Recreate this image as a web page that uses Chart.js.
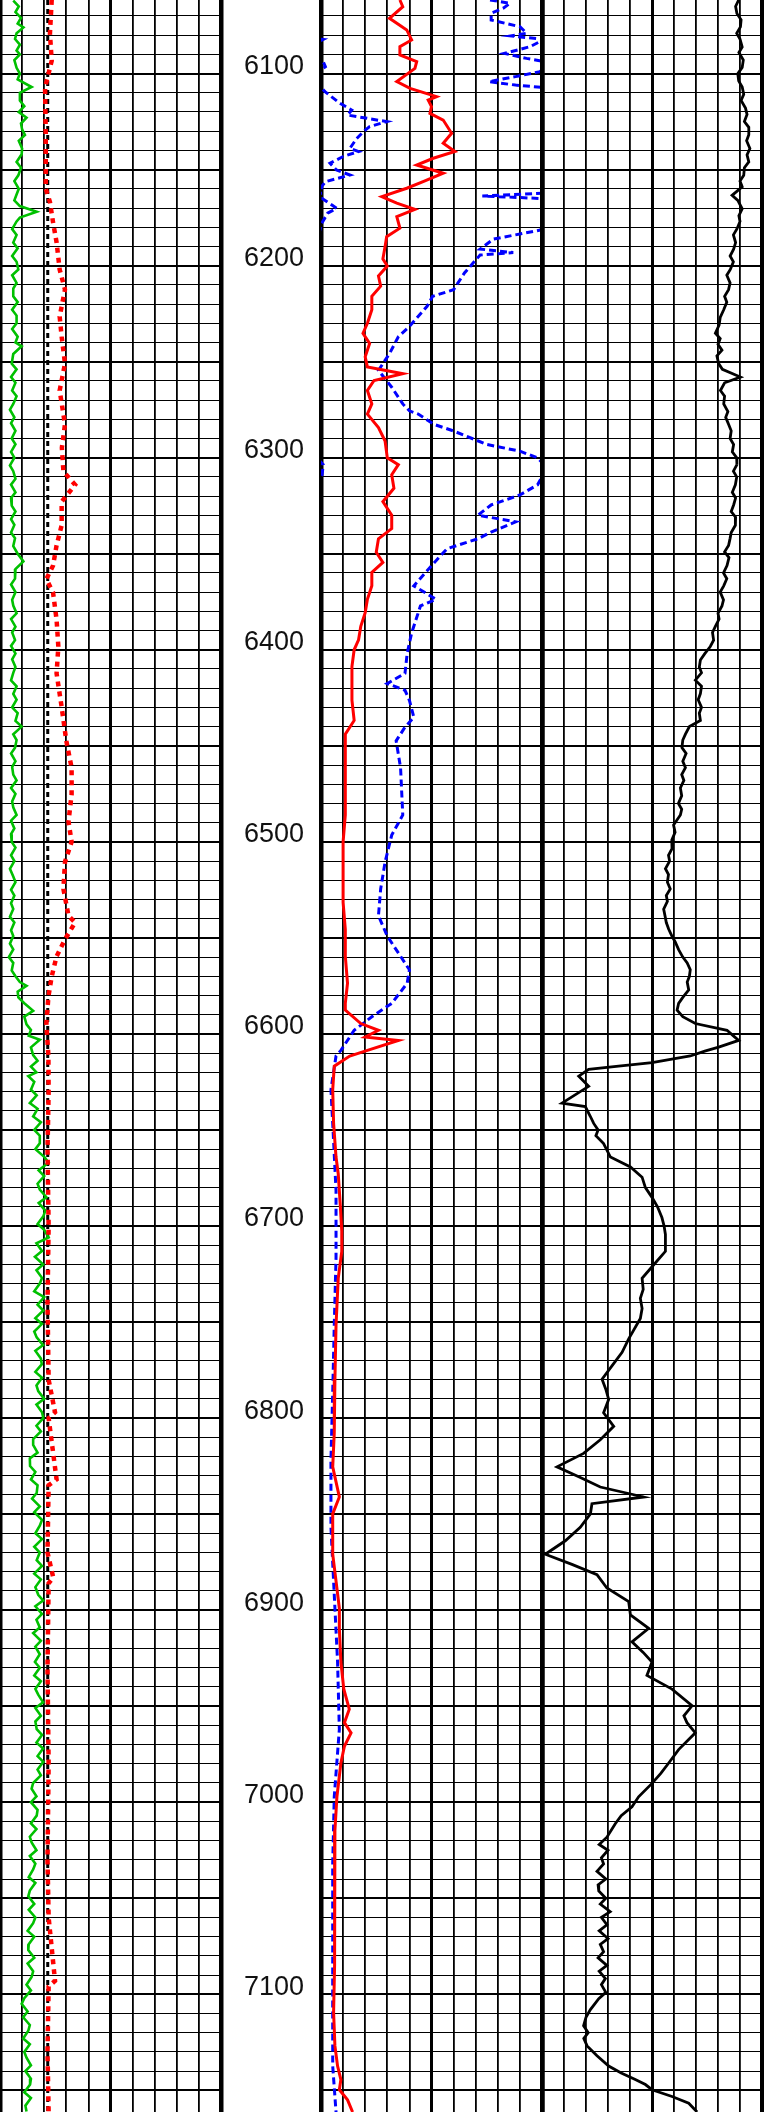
<!DOCTYPE html>
<html>
<head>
<meta charset="utf-8">
<script src="https://cdn.jsdelivr.net/npm/chart.js@4.4.1/dist/chart.umd.min.js"></script>
<style>
  html, body { margin: 0; padding: 0; background: #fff; }
  #log { position: relative; width: 764px; height: 2112px; overflow: hidden; }
  #log canvas { position: absolute; top: 0; }
</style>
</head>
<body>
<div id="log">
  <canvas id="track1" width="232" height="2112" style="left:-5px"></canvas>
  <canvas id="depth" width="100" height="2112" style="left:221px"></canvas>
  <canvas id="track2" width="232" height="2112" style="left:316px"></canvas>
  <canvas id="track3" width="232" height="2112" style="left:537px"></canvas>
</div>
<script>
// depth window shown (ft) and the labelled depths
const depthMin = 6061.7;
const depthMax = 7161.3;
const depthTicks = [6100, 6200, 6300, 6400, 6500, 6600, 6700, 6800, 6900, 7000, 7100];

// Track 1: green curve
const greenDepth = [6062, 6065, 6068, 6071, 6074, 6076, 6079, 6082, 6085, 6088, 6090, 6093, 6097, 6100, 6103, 6107,
  6110, 6114, 6117, 6120, 6123, 6126, 6129, 6132, 6135, 6139, 6142, 6146, 6149, 6153, 6156, 6160, 6163, 6166, 6169,
  6172, 6175, 6177, 6181, 6184, 6188, 6191, 6195, 6198, 6202, 6205, 6209, 6212, 6216, 6219, 6223, 6226, 6230, 6233,
  6237, 6240, 6242, 6246, 6251, 6254, 6258, 6261, 6265, 6268, 6272, 6275, 6279, 6282, 6286, 6290, 6293, 6297, 6300,
  6304, 6307, 6311, 6314, 6318, 6321, 6325, 6328, 6332, 6335, 6339, 6342, 6346, 6350, 6354, 6358, 6363, 6366, 6370,
  6374, 6377, 6381, 6384, 6388, 6391, 6395, 6398, 6402, 6405, 6409, 6412, 6416, 6419, 6423, 6426, 6430, 6433, 6437,
  6440, 6444, 6447, 6451, 6454, 6458, 6461, 6465, 6468, 6472, 6475, 6479, 6482, 6486, 6489, 6493, 6496, 6500, 6503,
  6507, 6510, 6514, 6518, 6521, 6525, 6528, 6532, 6535, 6539, 6542, 6546, 6549, 6553, 6556, 6560, 6563, 6567, 6570,
  6573, 6575, 6578, 6581, 6584, 6588, 6591, 6595, 6598, 6601, 6603, 6607, 6611,
  6614, 6617, 6620, 6622, 6625, 6629, 6632, 6636, 6639, 6643, 6646, 6650, 6653, 6657, 6660, 6664, 6667, 6671, 6674,
  6678, 6681, 6685, 6688, 6692, 6695, 6699, 6702, 6706, 6709, 6713, 6716, 6720, 6723, 6727, 6730, 6734, 6737, 6741,
  6744, 6748, 6751, 6755, 6758, 6762, 6765, 6769, 6772, 6776, 6779, 6783, 6786, 6790, 6793, 6797, 6800, 6804, 6807,
  6811, 6814, 6818, 6821, 6825, 6828, 6832, 6835, 6839, 6842, 6846, 6849, 6853, 6856, 6860, 6863, 6867, 6870, 6874,
  6877, 6881, 6884, 6888, 6892, 6895, 6898, 6902, 6905, 6909, 6912, 6916, 6919, 6923, 6927, 6930, 6934, 6937, 6941,
  6944, 6948, 6951, 6955, 6958, 6962, 6965, 6969, 6972, 6976, 6979, 6983, 6986, 6990, 6993, 6997, 7000, 7004, 7007,
  7011, 7014, 7018, 7021, 7025, 7028, 7032, 7035, 7039, 7042, 7046, 7049, 7053, 7056, 7060, 7063, 7067, 7070, 7074,
  7077, 7081, 7084, 7088, 7091, 7095, 7098, 7102, 7105, 7109, 7112, 7116, 7119, 7123, 7126, 7130, 7133, 7137, 7140,
  7144, 7147, 7151, 7154, 7158, 7161];
const greenVal = [6, 8.5, 7, 9.5, 8, 10.6, 7.5, 6.8, 9, 7.5, 9, 6.5, 7.5, 9, 8, 14.3,
  9, 9, 11, 8.5, 12, 9.5, 10, 11.3, 8.5, 10, 9.8, 7.5, 9.5, 8.3, 6.5, 8.5, 7.5, 6.5, 9,
  16.6, 9, 7.5, 5.5, 7.5, 6, 8, 5.5, 7.5, 8.3, 5.5, 7.5, 6, 6, 8, 5.5, 7.5, 7.5, 5.5,
  8, 7, 9.8, 6, 5.3, 7.5, 5, 7, 5.5, 7.5, 6, 4.5, 6.5, 5, 7, 5.3, 7, 5, 6.5,
  4.5, 6, 7, 5, 7, 5, 5.3, 7, 5, 6.5, 5, 6.8, 6, 8, 10.6, 7, 6.8, 5, 7,
  5.5, 6, 7.5, 5, 7, 5.5, 6.8, 5, 7, 5.5, 7, 6, 5, 7.5, 6, 7.5, 5.5, 8, 7,
  9.8, 6, 7.5, 6.8, 5, 7, 5.5, 6, 7.5, 5, 7, 5.5, 6, 7.5, 5, 6.5, 5, 5.3, 7,
  5, 6.5, 4.5, 6, 7, 5, 6.5, 5, 6, 4.5, 6.5, 5, 6, 4.5, 6, 4, 6, 5.3, 7,
  9, 12, 8, 8.3, 11, 15, 11, 12, 14, 13, 18, 14, 15,
  17, 14, 16.5, 12.8, 15.5, 14, 16.6, 13.5, 17, 15, 18.5, 15.5, 18, 18, 16, 20, 22, 17.5, 20,
  17, 18, 21, 17.5, 20.5, 19.6, 17, 20, 22, 16.5, 19, 15.8, 19.5, 16.5, 19, 18, 15.5, 20, 17,
  19.6, 16, 19, 15.5, 16.6, 19.5, 16, 18.5, 18.9, 16, 19, 16.5, 17.3, 20, 16.5, 19, 19.6, 16.5, 18.5,
  15, 15, 17, 13.5, 13.6, 16, 14, 17, 16.6, 14.5, 18, 15.5, 19, 18, 16, 19, 15.5, 18, 16.6,
  19, 15.5, 18.5, 16, 17.3, 19.5, 16, 19, 16.5, 18, 15, 18.5, 16, 18, 15.8, 18, 15.5, 18.5, 16,
  17.3, 19.5, 16, 18.5, 16, 16.6, 19, 16.5, 19.5, 17, 19.6, 17, 18.5, 15, 14.3, 16.5, 14, 17, 16.6,
  14, 16.5, 13.5, 14.3, 16.5, 13.5, 16, 15, 13, 16, 13.5, 12.8, 15.5, 13, 16, 15, 12.5, 15.5, 13,
  12.8, 15.5, 12.5, 15, 14.3, 12, 14, 11, 9.8, 12.5, 10.5, 13.5, 12.8, 10.5, 13.5, 11, 12, 14, 11.5,
  14, 13.6, 11, 14, 11.5, 12];

// Track 1: red dotted curve and black dashed cutoff
const red1Depth = [6061.7, 6079.2, 6093.3, 6100.3, 6107.3, 6131.8, 6159.9, 6166.9, 6177.4, 6187.9, 6202, 6212.5,
  6226.5, 6237, 6251, 6265, 6282.6, 6294.8, 6307.1, 6314.1, 6322.9, 6335.2, 6345.7, 6356.2, 6363.2, 6370.2,
  6384.3, 6398.3, 6412.3, 6429.8, 6447.4, 6461.4, 6475.4, 6489.4, 6500, 6510.5, 6524.5, 6538.5, 6542, 6550.8,
  6559.6, 6570.1, 6580.6, 6594.6, 6611.4, 6630, 6660, 6700, 6740, 6780, 6797, 6800, 6832, 6835, 6870, 6883,
  6886, 6930, 6980, 7030, 7060, 7093, 7096, 7130, 7161.3];
const red1Val = [23.4, 22.6, 23.4, 21.9, 20.4, 20.7, 20.7, 22.6, 24, 25.6, 27, 29.4,
  27, 27.9, 29.4, 27, 29.4, 28, 28.7, 34, 27.9, 27.9, 25.6, 24, 21, 24,
  25.6, 26.4, 25.6, 27.9, 30, 32.4, 32.4, 31, 32.4, 29.4, 28.7, 31, 34, 29.4,
  25.6, 23.4, 21.9, 21, 21.9, 22, 21.5, 22, 21.5, 22, 24.9, 22, 25.6, 22, 21.5, 24.1,
  22, 21.5, 22, 21.5, 22, 24.9, 22, 21.5, 22];
const cutoff = 21.6;

// Track 2: red solid curve
const red2Depth = [6061.7, 6065.2, 6071.2, 6077.3, 6082.5, 6086, 6090.3, 6093.8, 6097.3, 6104.2, 6107.7, 6112,
  6113.8, 6117.2, 6120.7, 6124.2, 6131.1, 6136.3, 6140.6, 6144.1, 6147.6, 6151.9, 6156.3, 6159.7, 6164.1,
  6167.5, 6170.7, 6174.5, 6180.5, 6184.9, 6190.1, 6196.5, 6200.2, 6205.4, 6210.7, 6216, 6223, 6230, 6235.2,
  6240.5, 6247.5, 6252.8, 6256.3, 6259.8, 6265, 6272, 6277.3, 6284.3, 6291.3, 6300.1, 6303.6, 6308.9, 6315.9,
  6322.9, 6329.9, 6336.9, 6342.2, 6349.2, 6354.5, 6359.7, 6366.7, 6373.7, 6380.7, 6387.8, 6394.8, 6400,
  6408.8, 6415.8, 6426.3, 6436.8, 6443.9, 6457.9, 6471.9, 6486, 6500, 6517.5, 6531.5, 6545.5, 6559.6, 6573.6,
  6584.1, 6587.6, 6594.6, 6598.1, 6601.6, 6603.4, 6608.6, 6611.5, 6616.8, 6629, 6646.6, 6664.1, 6672.9,
  6688.6, 6702.7, 6713.2, 6727.2, 6751.7, 6779.8, 6807.8, 6825.4, 6841.1, 6849.9, 6870.9, 6884.9, 6899,
  6909.5, 6927, 6941, 6951.6, 6958.6, 6963.9, 6970.9, 6979.6, 6997.2, 7014.7, 7049.8, 7084.8, 7109.4, 7126.9,
  7137.4, 7144.4, 7149.7, 7155, 7161.3];
const red2Val = [35.7, 37, 31, 38.8, 41, 35.7, 35.7, 43.3, 42.5, 34.3, 40.3, 52.3,
  48.5, 50, 49.3, 55.3, 59.1, 55.3, 60.6, 50.8, 43.3, 55.3, 46.2, 38.8, 27.5,
  34.3, 42.5, 34.3, 35.7, 29.7, 29, 28, 30, 26, 27, 23, 23, 21, 19,
  22, 20, 21, 37, 24, 21, 23, 21, 26, 29, 30, 35, 32, 33,
  28, 32, 32, 26, 25, 28, 23, 23, 21, 20, 18, 17, 15,
  14, 14, 14, 15, 11, 11, 11, 11, 10, 10, 10, 11, 11, 12,
  11, 11, 18, 26, 20, 35, 21, 13, 6, 5.3, 5.7, 6.8, 7.8,
  8.7, 9.4, 9.4, 7.8, 6.8, 6.3, 6, 5.3, 8.3, 5.3, 5.3, 6.8, 8.3,
  8.3, 9, 10.3, 12.8, 10.6, 13.6, 10.6, 9, 7.2, 6.3, 6.3, 6, 5.7, 6.3,
  7.5, 9, 8.3, 12, 14.3];

// Track 2: blue dashed curve (values above 100 wrap back into the track)
const blueDepth = [6061.7, 6063.4, 6066, 6068.6, 6072.1, 6075.6, 6079, 6080.4, 6082.2, 6086, 6089.5, 6092.1,
  6093.8, 6096.4, 6099, 6101.6, 6104.2, 6106, 6107.2, 6109.4, 6115.5, 6119, 6121.6, 6125, 6127.6, 6130.2,
  6134, 6138.9, 6140.6, 6143.2, 6146.7, 6150.2, 6152.8, 6156.3, 6158.9, 6162.3, 6163.7, 6165.1, 6170.1,
  6172.7, 6178, 6181.4, 6186.2, 6191.4, 6193.2, 6194.5, 6198.4, 6203.7, 6212.5, 6216, 6221.2, 6231.7, 6237,
  6245.8, 6254.5, 6263.3, 6272, 6275.6, 6277.3, 6282.6, 6286.1, 6293.1, 6296.6, 6300.1, 6303.6, 6308.9,
  6314.1, 6319.4, 6324.6, 6329.9, 6333.4, 6338.7, 6342.2, 6347.4, 6356.2, 6366.7, 6373.7, 6377.2, 6391.3,
  6401.8, 6412.3, 6417.6, 6421.1, 6426.3, 6435.1, 6440.3, 6447.4, 6461.4, 6486, 6496.5, 6510.5, 6524.5,
  6538.5, 6549.1, 6559.6, 6566.6, 6573.6, 6584.1, 6591.1, 6598.1, 6608.6, 6611.5, 6629, 6646.6, 6681.6,
  6716.7, 6751.7, 6786.8, 6821.9, 6856.9, 6892, 6927, 6962.1, 6997.2, 7032.2, 7067.3, 7102.3, 7137.4, 7161.3];
const blueVal = [76.5, 85.5, 82.5, 77, 77, 90, 93, 86, 101, 94.6, 83, 93,
  101, 102, 99, 88, 76, 88, 100, 101.8, 108.6, 113.9, 112, 129.7, 122, 119.2,
  116, 113.1, 117, 110, 104.1, 107, 113.1, 102, 100.3, 100.5, 73, 100.5, 107.1,
  103, 100.3, 99.5, 78, 72, 87, 72, 69, 65, 60, 50.5, 48, 40, 35,
  31, 26, 32, 37, 40, 44, 51, 60, 75, 90, 98, 101, 100.5,
  98, 90, 77, 71, 88, 77, 71, 57, 50, 42, 52, 45, 41,
  39, 38, 30, 38, 40, 42, 38, 34, 36, 37, 32, 29, 27,
  26, 30, 36, 40, 39, 32, 23, 15, 9, 6.8, 4.5, 5.3, 6.8,
  6.8, 6, 5.3, 4.5, 4.5, 6, 7.5, 8.3, 6, 5.3, 5.3, 5.3, 5.3, 6.8];

// Track 3: black curve
const blackDepth = [6061.7, 6065, 6068.7, 6072, 6075.7, 6079, 6082, 6086.2, 6089, 6093, 6096.8, 6100, 6103.8,
  6107, 6110.8, 6114, 6118, 6121.3, 6125, 6128, 6131.8, 6135, 6139, 6142.3, 6146, 6149, 6152.9, 6156, 6159,
  6163.4, 6166, 6170.4, 6174, 6177, 6180.9, 6184, 6188, 6191.4, 6195, 6198, 6202, 6205, 6209, 6212.5, 6216,
  6219, 6223, 6227, 6231, 6235.2, 6238, 6241, 6244, 6247, 6251, 6254, 6258, 6261, 6265, 6268, 6272, 6276,
  6279, 6282.6, 6286, 6290, 6293.1, 6297, 6300, 6303.6, 6307, 6310, 6314.1, 6318, 6321, 6324.6, 6328, 6331,
  6335.2, 6339, 6342, 6345.7, 6349, 6352, 6356.2, 6360, 6363, 6366.7, 6370, 6374, 6377.2, 6381, 6384, 6387.8,
  6391, 6395, 6398.3, 6402, 6405.3, 6409, 6412, 6415.8, 6419, 6422.8, 6426, 6430, 6433, 6436.8, 6440, 6443.9,
  6447, 6450.9, 6454, 6458, 6461.4, 6465, 6468, 6471.9, 6476, 6480, 6483, 6486, 6491.2, 6495, 6499, 6503.5,
  6507, 6510, 6514, 6517, 6521, 6524.5, 6528, 6531, 6535, 6539, 6542, 6545.5, 6549, 6552, 6556.1, 6560, 6563,
  6566.6, 6570, 6573, 6577.1, 6581, 6584.1, 6587.6, 6591, 6594.6, 6598.1, 6601, 6603.4, 6606.9, 6609,
  6611.5, 6615, 6616.8, 6618.5, 6622, 6627.3, 6636, 6637.8, 6643, 6646.6, 6650, 6653, 6657.1, 6664.1, 6669.3,
  6674.6, 6680, 6685.1, 6690, 6695.6, 6700, 6704.4, 6713.2, 6720.2, 6727.2, 6733, 6737.7, 6743, 6748.2,
  6758.8, 6765.8, 6772.8, 6779.8, 6785, 6790.3, 6797.3, 6804.3, 6811.3, 6818.4, 6825.4, 6830.6, 6835.9,
  6841.1, 6844.6, 6849.9, 6856.9, 6863.9, 6870.9, 6876.2, 6881.5, 6888.5, 6895.5, 6902.5, 6909.5, 6916.5,
  6922, 6927, 6934, 6941.1, 6949.8, 6955, 6958.6, 6963.9, 6972.6, 6979.6, 6985, 6990.2, 6997.2, 7002.4,
  7007, 7011.2, 7018.2, 7022, 7025, 7029, 7032.2, 7036, 7040, 7043, 7046.2, 7050, 7053, 7057, 7060, 7063.8,
  7067, 7071, 7074, 7077.8, 7081, 7085, 7088, 7091.8, 7095, 7099, 7102.3, 7108, 7112, 7116.4, 7120, 7123,
  7126.9, 7132, 7137.4, 7141, 7144.4, 7147, 7149.7, 7153.2, 7156.7, 7161.3];
const blackVal = [89.4, 88, 88.6, 90.5, 90.2, 88.5, 90, 91, 89.5, 91.5, 91, 89, 89.4,
  91, 91.7, 90.5, 92.5, 93.2, 92, 94, 94, 93, 94.5, 93.2, 94, 92, 91.7, 90, 91,
  86.4, 89, 91, 89.5, 90, 88.6, 87, 88, 87.1, 85.5, 87, 85.6, 84, 85.5, 84.8, 83,
  84, 82.6, 81, 80.5, 78.8, 81, 80, 81.8, 79.5, 80.3, 82, 90.2, 83, 81.1, 83, 82.6, 84.5,
  83.5, 84.8, 86, 85.5, 87.1, 86.5, 88.5, 88.6, 87, 88.5, 87.9, 86.5, 88, 87.1, 86, 88,
  87.9, 86, 85.5, 84.8, 83, 85, 84.1, 82.5, 84, 82.6, 81, 82.5, 81.8, 80, 80.5, 78.8,
  77.5, 78, 76.5, 74, 72, 71.5, 72.5, 69.7, 72.5, 72, 71, 72.5, 71.5, 72, 67, 65.2,
  64, 63.6, 65.5, 64, 65.2, 63.5, 64.5, 62.9, 63.5, 62, 63.5, 62.9, 59.8, 60.5, 59, 59.1,
  57.5, 58, 56.1, 57.5, 57, 58.3, 56.5, 57, 55.3, 56, 56.5, 57.6, 59, 60.5, 62.1, 64, 66,
  67.4, 67, 66, 66.7, 64, 62.1, 61.4, 64, 69.7, 84.1, 87, 89.4, 80.3, 74,
  67.4, 50, 34.8, 21.2, 16.7, 21.2, 9.1, 19.7, 22, 23.5, 25.5, 24.5, 28, 31.1, 40.2,
  45.5, 47, 50, 52.5, 54.5, 55.5, 56.1, 56.1, 50.8, 45.5, 46, 44.7, 45.5, 44.7,
  39.4, 36.4, 31.8, 27.3, 29, 30.3, 28, 32.6, 26.5, 18.9, 6.8, 16.7, 26.5,
  46.2, 22.7, 22, 17.4, 10.6, 1.5, 13.6, 25, 29.5, 39.4, 40.2, 48.5, 40.9,
  46, 50, 47.7, 59.1, 68.2, 64.5, 65.9, 69.7, 62.1, 57.6, 54, 50, 43.9, 40.9,
  36, 33.3, 29.5, 26, 30, 27, 28, 25, 29, 25.5, 25.8, 29, 26.5, 31, 27, 29.5,
  26, 30, 26.5, 28, 25.5, 29.5, 26, 28.8, 27, 29, 25.8, 22, 20, 18.9, 21, 19,
  20.5, 25, 30.3, 36, 42.4, 47, 50, 59.1, 66.7, 70.5];

const fontFamily = '"Liberation Sans", Arial, Helvetica, sans-serif';

const pts = (depths, vals) => depths.map((d, i) => ({ x: vals[i], y: d }));

function trackOptions(padRight) {
  return {
    indexAxis: 'y',
    responsive: false,
    animation: false,
    layout: { padding: { left: 5, right: padRight, top: 0, bottom: 0 } },
    plugins: { legend: { display: false }, tooltip: { enabled: false } },
    elements: { point: { radius: 0 }, line: { tension: 0 } },
    scales: {
      x: {
        type: 'linear', min: 0, max: 100,
        ticks: { display: false, stepSize: 10 },
        border: { display: false },
        grid: {
          color: '#000', drawTicks: false,
          lineWidth: c => (c.index === 0 || c.index === 10) ? 4.5 : (c.index === 5 ? 3 : 1.8)
        }
      },
      y: {
        type: 'linear', reverse: true, min: depthMin, max: depthMax,
        ticks: { display: false, stepSize: 10 },
        afterBuildTicks: s => { s.ticks = s.ticks.filter(t => Math.abs(t.value % 10) < 1e-6); },
        border: { display: false },
        grid: {
          color: '#000', drawTicks: false,
          lineWidth: c => (c.tick && c.tick.value % 50 === 0) ? 2 : 1
        }
      }
    }
  };
}

// Track 1
new Chart(document.getElementById('track1'), {
  type: 'line',
  data: {
    datasets: [
      { data: pts(red1Depth, red1Val), borderColor: '#ff0000', borderWidth: 4.5, borderDash: [5, 5], clip: 0 },
      { data: pts(greenDepth, greenVal), borderColor: '#00c000', borderWidth: 2.6, clip: 0 },
      { data: [{ x: cutoff, y: depthMin }, { x: cutoff, y: depthMax }], borderColor: '#000', borderWidth: 3, borderDash: [5, 4], clip: 0 }
    ]
  },
  options: trackOptions(6)
});

// Depth column
new Chart(document.getElementById('depth'), {
  type: 'line',
  data: { datasets: [] },
  options: {
    responsive: false,
    animation: false,
    layout: { padding: 0 },
    plugins: { legend: { display: false }, tooltip: { enabled: false } },
    scales: {
      x: { type: 'linear', display: false, min: 0, max: 1 },
      y: {
        type: 'linear', reverse: true, min: depthMin, max: depthMax,
        afterBuildTicks: s => { s.ticks = depthTicks.map(v => ({ value: v })); },
        afterFit: s => { s.width = 83; s.paddingTop = 0; s.paddingBottom = 0; },
        grid: { display: false, drawTicks: false },
        border: { display: false },
        ticks: {
          color: '#111', padding: 0, crossAlign: 'center', labelOffset: -7,
          font: { family: fontFamily, size: 27 },
          callback: v => String(v)
        }
      }
    }
  }
});

// Track 2
new Chart(document.getElementById('track2'), {
  type: 'line',
  data: {
    datasets: [
      { data: pts(red2Depth, red2Val), borderColor: '#ff0000', borderWidth: 3, clip: 0 },
      { data: pts(blueDepth, blueVal), borderColor: '#0000ff', borderWidth: 3, borderDash: [7, 4], clip: 0 },
      { data: pts(blueDepth, blueVal.map(v => v - 100)), borderColor: '#0000ff', borderWidth: 3, borderDash: [7, 4], clip: 0 }
    ]
  },
  options: trackOptions(6)
});

// Track 3
new Chart(document.getElementById('track3'), {
  type: 'line',
  data: {
    datasets: [
      { data: pts(blackDepth, blackVal), borderColor: '#000', borderWidth: 2.8, clip: 0 }
    ]
  },
  options: trackOptions(7)
});
</script>
</body>
</html>
